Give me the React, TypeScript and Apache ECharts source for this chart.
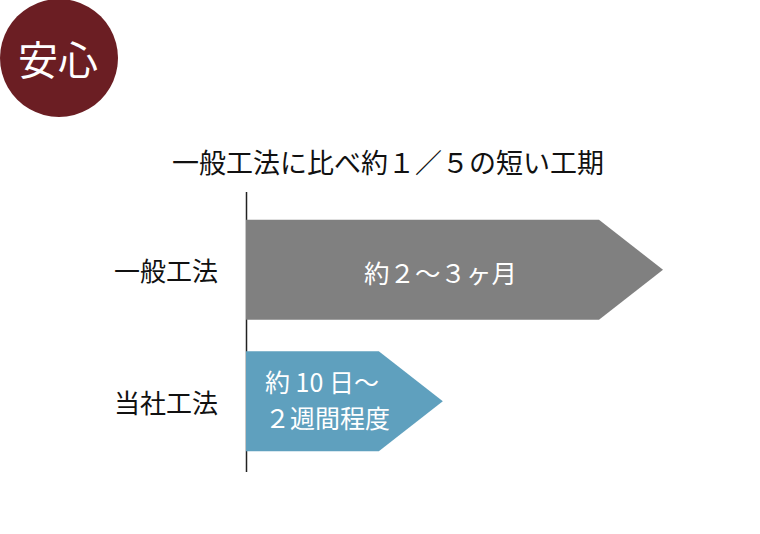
import React, { useEffect, useRef } from "react";
import * as echarts from "echarts";

const categories = ["一般工法", "当社工法"];
const values = [100, 47.2];
const barLabels = ["約２〜３ヶ月", "約 10 日〜\n２週間程度"];
const titleText = "一般工法に比べ約１／５の短い工期";
const badgeText = "安心";

const barColors = ["#808080", "#5fa0be"];
const FONT = '"Noto Sans CJK JP", "Noto Sans", sans-serif';

export default function App() {
  const ref = useRef<HTMLDivElement>(null);
  useEffect(() => {
    if (!ref.current) return;
    const chart = echarts.init(ref.current, null, { renderer: "svg" });
    const data = categories.map((c, i) => [i, values[i]]);
    chart.setOption({
      animation: false,
      backgroundColor: "#ffffff",
      title: {
        text: titleText,
        left: 388,
        top: 148,
        padding: 0,
        textAlign: "center",
        textStyle: { fontSize: 27, fontWeight: "normal", color: "#111111", fontFamily: FONT },
      },
      grid: { left: 246, right: 97, top: 204, bottom: 67, containLabel: false },
      xAxis: {
        type: "value",
        min: 0,
        max: 100,
        show: false,
      },
      yAxis: {
        type: "category",
        data: categories,
        inverse: true,
        axisLine: { show: false },
        axisTick: { show: false },
        splitLine: { show: false },
        axisLabel: { margin: 28, fontSize: 26, color: "#111111", fontFamily: FONT },
      },
      graphic: [
        {
          type: "circle",
          shape: { cx: 59, cy: 58, r: 59 },
          style: { fill: "#6b1e23" },
          z: 1,
        },
        {
          type: "text",
          x: 58,
          y: 58,
          style: {
            text: badgeText,
            fill: "#ffffff",
            fontSize: 40,
            fontFamily: FONT,
            align: "center",
            verticalAlign: "middle",
          },
          z: 2,
        },
        {
          type: "line",
          shape: { x1: 246.5, y1: 192, x2: 246.5, y2: 472 },
          style: { stroke: "#222222", lineWidth: 1.5 },
          z: 1,
        },
      ],
      series: [
        {
          type: "custom",
          z: 5,
          encode: { x: 1, y: 0 },
          data,
          renderItem: (params: any, api: any) => {
            const idx = api.value(0);
            const v = api.value(1);
            const p0 = api.coord([0, idx]);
            const p1 = api.coord([v, idx]);
            const band = api.size([0, 1])[1];
            const h = band * 0.76;
            const tip = 64;
            const x0 = p0[0];
            const xe = p1[0];
            const y = p0[1];
            const top = y - h / 2;
            const bot = y + h / 2;
            const textEl =
              idx === 0
                ? {
                    type: "text",
                    style: {
                      text: barLabels[idx],
                      x: (x0 + xe - tip) / 2 + 18,
                      y: y + 2,
                      fill: "#ffffff",
                      fontSize: 25.5,
                      fontFamily: FONT,
                      align: "center",
                      verticalAlign: "middle",
                    },
                  }
                : {
                    type: "text",
                    style: {
                      text: barLabels[idx],
                      x: x0 + 19,
                      y: y - 2,
                      fill: "#ffffff",
                      fontSize: 25,
                      lineHeight: 36,
                      fontFamily: FONT,
                      align: "left",
                      verticalAlign: "middle",
                    },
                  };
            return {
              type: "group",
              children: [
                {
                  type: "polygon",
                  shape: {
                    points: [
                      [x0, top],
                      [xe - tip, top],
                      [xe, y],
                      [xe - tip, bot],
                      [x0, bot],
                    ],
                  },
                  style: { fill: barColors[idx] },
                },
                textEl,
              ],
            };
          },
        },
      ],
    });
    return () => chart.dispose();
  }, []);
  return <div ref={ref} style={{ width: 760, height: 534, position: "absolute", left: 0, top: 0 }} />;
}
